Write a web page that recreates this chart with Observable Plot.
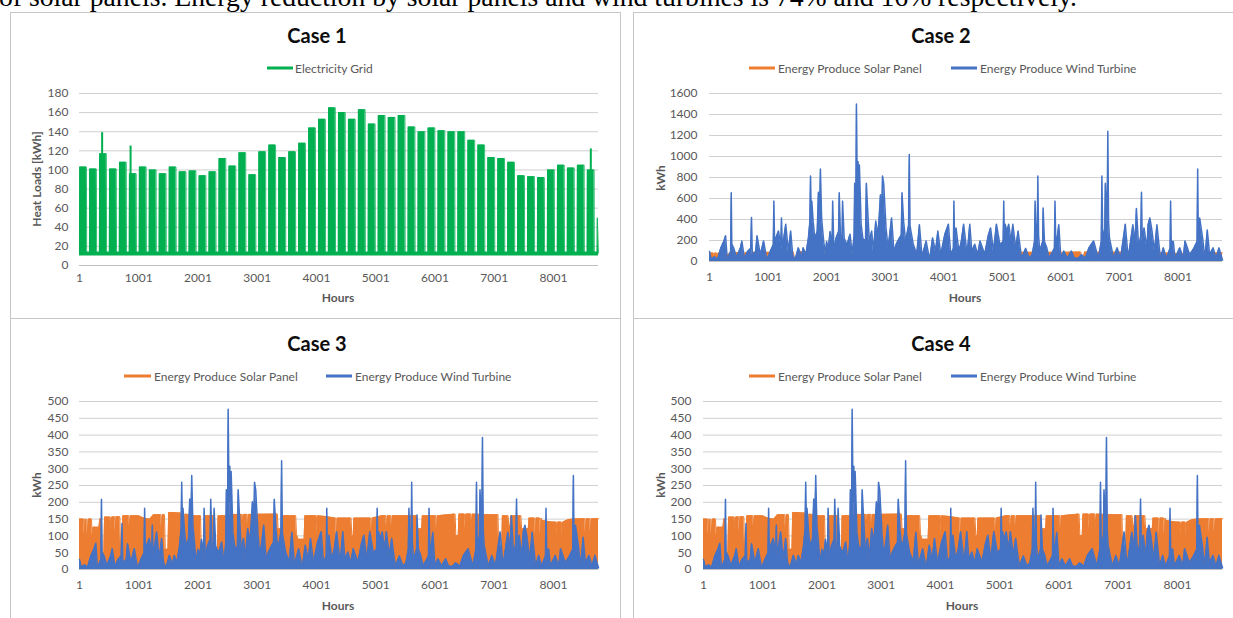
<!DOCTYPE html>
<html>
<head>
<meta charset="utf-8">
<script src="https://cdn.jsdelivr.net/npm/d3@7"></script>
<script src="https://cdn.jsdelivr.net/npm/@observablehq/plot@0.6"></script>
<style>
  html, body { margin: 0; padding: 0; background: #fff; }
  body { width: 1233px; height: 618px; overflow: hidden; position: relative; font-family: Lato, "Open Sans", sans-serif; }
  .lead { position: absolute; left: -1px; top: -17px; font: 27.7px/27.7px "Liberation Serif", "Times New Roman", serif; color: #000; white-space: nowrap; }
  .frame { position: absolute; border: 1px solid #c6c6c6; box-sizing: border-box; }
  .t { position: absolute; white-space: nowrap; line-height: 1; }
  .title { font: bold 20px Lato, sans-serif; color: #0d0d0d; transform: translate(-50%, -50%); }
  .leg { font: 12px Lato, sans-serif; color: #595959; transform: translate(0, -50%); }
  .sw { position: absolute; height: 3px; transform: translate(0, -50%); }
  .axt { font: bold 12px Lato, sans-serif; color: #595959; transform: translate(-50%, -50%); }
  .axy { font: bold 12px Lato, sans-serif; color: #595959; transform: translate(-50%, -50%) rotate(-90deg); }
</style>
</head>
<body>
<div class="lead">of solar panels. Energy reduction by solar panels and wind turbines is 74% and 16% respectively.</div>
<script>
// ---------------- data ----------------
const xTickLabels = [1, 1001, 2001, 3001, 4001, 5001, 6001, 7001, 8001];
const case1YTicks = [0, 20, 40, 60, 80, 100, 120, 140, 160, 180];
const case2YTicks = [0, 200, 400, 600, 800, 1000, 1200, 1400, 1600];
const case34YTicks = [0, 50, 100, 150, 200, 250, 300, 350, 400, 450, 500];

// Case 1: weekly peak of electricity grid load (kWh), one value per week (week starts every 168 h)
const gridWeekPeak = [
  103, 101, 117, 101, 108, 96, 103, 100, 96, 103,
  98, 99, 94, 98, 112, 104, 118, 95, 119, 126,
  113, 119, 128, 144, 153, 165, 160, 153, 163, 148,
  157, 155, 157, 145, 140, 144, 141, 140, 140, 131,
  126, 113, 112, 108, 94, 93, 92, 100, 105, 102,
  105, 100, 50
];
const gridNightBase = 13;
const gridSpikeHours = [383, 863, 8630];
const gridSpikeKwh = [139, 125, 122];

// Wind turbine output (hour, kWh) — Case 3/4 and Case 2
const windHours = [
  1, 30, 90, 135, 192, 248, 276, 305, 338, 362,
  372, 382, 417, 462, 530, 553, 600, 650, 705, 718,
  732, 790, 812, 869, 925, 981, 1038, 1090, 1100, 1112,
  1179, 1220, 1230, 1245, 1303, 1348, 1387, 1421, 1461, 1517,
  1574, 1600, 1647, 1690, 1715, 1726, 1740, 1748, 1770, 1800,
  1840, 1861, 1880, 1895, 1915, 1950, 1980, 2000, 2030, 2060,
  2095, 2104, 2125, 2160, 2205, 2216, 2240, 2265, 2273, 2300,
  2350, 2400, 2440, 2470, 2480, 2500, 2510, 2525, 2538, 2550,
  2560, 2590, 2620, 2665, 2679, 2700, 2730, 2770, 2800, 2840,
  2880, 2920, 2945, 2955, 2975, 3015, 3050, 3110, 3150, 3190,
  3240, 3275, 3288, 3315, 3350, 3400, 3412, 3425, 3440, 3480,
  3540, 3585, 3630, 3700, 3760, 3810, 3860, 3900, 3950, 4020,
  4080, 4120, 4165, 4174, 4185, 4210, 4260, 4300, 4340, 4400,
  4445, 4480, 4530, 4580, 4620, 4700, 4760, 4800, 4850, 4900,
  4960, 5015, 5025, 5035, 5050, 5080, 5110, 5150, 5180, 5230,
  5270, 5330, 5400, 5460, 5510, 5550, 5561, 5580, 5600, 5607,
  5620, 5640, 5690, 5697, 5720, 5760, 5800, 5890, 5900, 5915,
  5965, 6000, 6050, 6110, 6180, 6230, 6300, 6350, 6420, 6480,
  6560, 6640, 6690, 6701, 6715, 6750, 6760, 6790, 6802, 6815,
  6830, 6900, 6960, 7020, 7100, 7150, 7230, 7270, 7290, 7330,
  7365, 7377, 7390, 7420, 7470, 7490, 7519, 7550, 7600, 7640,
  7700, 7750, 7800, 7865, 7874, 7885, 7920, 7950, 8030, 8090,
  8120, 8200, 8270, 8326, 8336, 8348, 8370, 8420, 8460, 8500,
  8540, 8600, 8650, 8700, 8760
];
const windKwhCase34 = [
  30, 8, 14, 5, 40, 62, 78, 5, 20, 30,
  209, 52, 40, 12, 42, 62, 8, 30, 40, 137,
  20, 30, 77, 20, 62, 5, 30, 50, 182, 60,
  92, 50, 132, 40, 112, 30, 92, 20, 5, 42,
  15, 42, 20, 72, 120, 260, 120, 182, 122, 70,
  90, 210, 130, 280, 132, 62, 20, 60, 40, 90,
  50, 182, 30, 70, 90, 209, 60, 80, 182, 70,
  50, 82, 20, 80, 237, 150, 477, 200, 307, 120,
  292, 112, 70, 60, 237, 162, 60, 92, 30, 122,
  80, 202, 150, 260, 237, 102, 40, 132, 30, 52,
  70, 80, 209, 122, 60, 110, 324, 110, 92, 52,
  22, 111, 15, 62, 5, 72, 30, 92, 20, 82,
  112, 20, 40, 182, 60, 102, 30, 60, 112, 20,
  112, 30, 52, 20, 62, 22, 77, 102, 30, 112,
  50, 60, 182, 80, 112, 90, 112, 60, 112, 42,
  92, 10, 40, 10, 20, 60, 182, 60, 120, 260,
  80, 30, 60, 162, 60, 42, 10, 40, 182, 40,
  111, 10, 32, 10, 32, 10, 10, 20, 10, 42,
  62, 10, 60, 260, 60, 100, 237, 120, 393, 120,
  72, 10, 42, 10, 112, 10, 111, 60, 160, 40,
  80, 210, 60, 102, 40, 111, 132, 100, 30, 111,
  10, 42, 10, 40, 182, 60, 60, 10, 42, 10,
  62, 20, 40, 60, 280, 60, 132, 72, 10, 96,
  20, 42, 10, 42, 5
];
const windKwhCase2 = [
  95, 25, 45, 15, 125, 195, 245, 15, 65, 95,
  655, 165, 125, 40, 130, 195, 25, 95, 125, 420,
  65, 95, 245, 65, 195, 15, 95, 160, 575, 190,
  290, 160, 415, 125, 355, 95, 290, 65, 15, 130,
  45, 130, 65, 225, 380, 815, 380, 575, 385, 220,
  285, 660, 410, 880, 415, 195, 65, 190, 125, 285,
  160, 575, 95, 220, 285, 655, 190, 250, 575, 220,
  160, 260, 65, 250, 745, 470, 1500, 630, 950, 380,
  920, 355, 220, 190, 745, 510, 190, 290, 95, 385,
  250, 635, 470, 815, 745, 320, 125, 415, 95, 165,
  220, 250, 655, 385, 190, 345, 1020, 345, 290, 165,
  70, 350, 45, 195, 15, 225, 95, 290, 65, 260,
  355, 65, 125, 575, 190, 320, 95, 190, 355, 65,
  355, 95, 165, 65, 195, 70, 245, 320, 95, 355,
  160, 190, 575, 250, 355, 285, 355, 190, 355, 130,
  290, 30, 125, 30, 65, 190, 575, 190, 380, 815,
  250, 95, 190, 510, 190, 130, 30, 125, 575, 125,
  350, 30, 100, 30, 100, 30, 30, 65, 30, 130,
  195, 30, 190, 815, 190, 315, 745, 380, 1240, 380,
  225, 30, 130, 30, 355, 30, 350, 190, 505, 125,
  250, 660, 190, 320, 125, 350, 415, 315, 95, 350,
  30, 130, 30, 125, 575, 190, 190, 30, 130, 30,
  195, 65, 125, 190, 880, 190, 415, 225, 30, 300,
  65, 130, 30, 130, 15
];

// Solar panel output envelope (hour, kWh) — Case 3/4 and Case 2
const solarHours = [
  1, 70, 82, 94, 125, 137, 149, 203, 215, 227,
  330, 342, 372, 382, 412, 424, 520, 532, 544, 594,
  606, 618, 682, 692, 722, 732, 834, 846, 858, 1000,
  1100, 1190, 1250, 1374, 1386, 1398, 1436, 1448, 1494, 1506,
  1700, 1770, 1782, 1794, 1900, 2044, 2056, 2104, 2116, 2269,
  2281, 2328, 2340, 2484, 2496, 2526, 2538, 2748, 2760, 2772,
  2831, 2843, 2855, 3340, 3352, 3428, 3440, 3650, 3662, 3690,
  3792, 3804, 3998, 4010, 4022, 4140, 4325, 4337, 4349, 4584,
  4596, 4620, 4632, 4918, 4930, 4942, 5100, 5173, 5185, 5197,
  5258, 5270, 5282, 5695, 5707, 5775, 5787, 6018, 6030, 6042,
  6340, 6352, 6393, 6405, 6498, 6510, 6522, 6611, 6623, 6635,
  6850, 7064, 7076, 7126, 7138, 7234, 7246, 7268, 7280, 7450,
  7462, 7575, 7587, 7683, 7695, 7707, 7768, 7780, 7792, 7805,
  7975, 8048, 8060, 8072, 8133, 8145, 8157, 8255, 8425, 8528,
  8540, 8552, 8613, 8625, 8637, 8760
];
const solarKwhCase34 = [
  150, 150, 105, 150, 148, 95, 150, 150, 100, 126,
  126, 150, 150, 50, 50, 156, 156, 110, 156, 157,
  115, 157, 157, 81, 81, 160, 160, 125, 160, 160,
  152, 150, 163, 163, 120, 163, 163, 60, 60, 170,
  168, 165, 62, 165, 160, 160, 62, 62, 160, 160,
  52, 52, 160, 160, 40, 40, 164, 164, 100, 164,
  164, 100, 164, 165, 121, 121, 160, 160, 106, 90,
  90, 160, 160, 100, 160, 158, 153, 90, 153, 153,
  100, 100, 153, 153, 110, 153, 160, 160, 115, 160,
  160, 115, 160, 160, 121, 121, 160, 160, 100, 160,
  165, 101, 101, 165, 165, 120, 165, 165, 120, 165,
  163, 163, 60, 60, 160, 160, 130, 130, 160, 160,
  121, 121, 153, 153, 105, 153, 153, 105, 153, 146,
  141, 141, 100, 141, 141, 100, 141, 149, 151, 151,
  110, 151, 151, 110, 151, 151
];
const solarKwhCase2 = [
  80, 80, 55, 80, 80, 50, 80, 80, 55, 68,
  68, 80, 80, 28, 28, 85, 85, 60, 85, 85,
  62, 85, 85, 45, 45, 87, 87, 68, 87, 87,
  83, 82, 88, 88, 65, 88, 88, 33, 33, 92,
  91, 90, 34, 90, 87, 87, 34, 34, 87, 87,
  28, 28, 87, 87, 22, 22, 89, 89, 55, 89,
  89, 55, 89, 90, 66, 66, 87, 87, 58, 49,
  49, 87, 87, 55, 87, 86, 83, 49, 83, 83,
  55, 55, 83, 83, 60, 83, 87, 87, 62, 87,
  87, 62, 87, 87, 66, 66, 87, 87, 55, 87,
  90, 55, 55, 90, 90, 65, 90, 90, 65, 90,
  89, 89, 33, 33, 87, 87, 71, 71, 87, 87,
  66, 66, 83, 83, 57, 83, 83, 57, 83, 80,
  77, 77, 55, 77, 77, 55, 77, 81, 82, 82,
  60, 82, 82, 60, 82, 82
];

// ---------------- styles ----------------
const GREEN = "#00b050", ORANGE = "#ed7d31", BLUE = "#4472c4";
const SOLAR_NAME = "Energy Produce Solar Panel", WIND_NAME = "Energy Produce Wind Turbine";

// ---------------- tables built from the arrays ----------------
const gridPts = [];
gridWeekPeak.forEach((peak, i) => {
  const s = 1 + i * 168;
  [[s, gridNightBase], [s + 3, peak], [s + 117, peak], [s + 121, gridNightBase]].forEach(([h, v]) => {
    if (h <= 8760) gridPts.push({h, v});
  });
});
gridPts.push({h: 8760, v: gridNightBase});
const gridSpikes = gridSpikeHours.map((h, i) => ({h, v: gridSpikeKwh[i]}));
const wind34 = windHours.map((h, i) => ({h, v: windKwhCase34[i]}));
const wind2 = windHours.map((h, i) => ({h, v: windKwhCase2[i]}));
const solar34 = solarHours.map((h, i) => ({h, v: solarKwhCase34[i]}));
const solar2 = solarHours.map((h, i) => ({h, v: solarKwhCase2[i]}));

// ---------------- helpers ----------------
function addText(str, x, y, cls) {
  const d = document.createElement("div");
  d.className = "t " + cls;
  d.textContent = str;
  d.style.left = x + "px";
  d.style.top = y + "px";
  document.body.appendChild(d);
}
function addSwatch(x, y, w, color) {
  const d = document.createElement("div");
  d.className = "sw";
  d.style.left = x + "px"; d.style.top = y + "px"; d.style.width = w + "px"; d.style.background = color;
  document.body.appendChild(d);
}
function addFrame(x, y, w, h) {
  const d = document.createElement("div");
  d.className = "frame";
  d.style.left = x + "px"; d.style.top = y + "px"; d.style.width = w + "px"; d.style.height = h + "px";
  document.body.appendChild(d);
}
function drawChart(o) {
  const svg = Plot.plot({
    width: o.width, height: o.height,
    marginLeft: o.mL, marginRight: o.mR, marginTop: o.mT, marginBottom: o.mB,
    style: {fontFamily: "Lato, 'Open Sans', sans-serif", fontSize: "12px", color: "#595959", background: "transparent", overflow: "visible"},
    x: {domain: [1, 8760]},
    y: {domain: [0, o.yTicks[o.yTicks.length - 1]]},
    marks: [
      Plot.gridY(o.yTicks, {stroke: "#d0d0d0", strokeOpacity: 1, strokeWidth: 1}),
      ...o.marks,
      Plot.ruleY([0], {stroke: "#bfbfbf"}),
      Plot.axisX(xTickLabels, {tickSize: 0, tickPadding: o.xPad, tickFormat: d => String(d), label: null, fontSize: 12}),
      Plot.axisY(o.yTicks, {tickSize: 0, tickPadding: o.yPad, tickFormat: d => String(d), label: null, fontSize: 12})
    ]
  });
  svg.style.position = "absolute";
  svg.style.left = o.left + "px";
  svg.style.top = o.top + "px";
  document.body.appendChild(svg);
}
function solarWindMarks(solar, wind) {
  return [
    Plot.area(solar, {x1: "h", y1: 0, y2: "v", fill: ORANGE}),
    Plot.line(solar, {x: "h", y: "v", stroke: ORANGE, strokeWidth: 1}),
    Plot.area(wind, {x1: "h", y1: 0, y2: "v", fill: BLUE}),
    Plot.line(wind, {x: "h", y: "v", stroke: BLUE, strokeWidth: 1.5})
  ];
}

// ---------------- frames ----------------
addFrame(10, 12, 611, 307);
addFrame(633, 12, 620, 307);
addFrame(10, 318, 611, 310);
addFrame(633, 318, 620, 310);

// ---------------- Case 1 ----------------
addText("Case 1", 317, 35, "title");
addSwatch(267, 68, 26, GREEN);
addText("Electricity Grid", 295, 68, "leg");
drawChart({
  left: 10, top: 80, width: 610, height: 230, mL: 69, mR: 22, mT: 13, mB: 45,
  yTicks: case1YTicks, xPad: 8, yPad: 11,
  marks: [
    Plot.area(gridPts, {x1: "h", y1: 10, y2: "v", fill: GREEN}),
    Plot.line(gridPts, {x: "h", y: "v", stroke: GREEN, strokeWidth: 0.8}),
    Plot.ruleY([gridNightBase], {stroke: GREEN, strokeWidth: 3}),
    Plot.ruleX(gridSpikes, {x: "h", y1: gridNightBase, y2: "v", stroke: GREEN, strokeWidth: 2})
  ]
});
addText("Heat Loads [kWh]", 36, 179, "axy");
addText("Hours", 338, 297, "axt");

// ---------------- Case 2 ----------------
addText("Case 2", 941, 35, "title");
addSwatch(749, 68, 26, ORANGE);
addText(SOLAR_NAME, 778, 68, "leg");
addSwatch(951, 68, 26, BLUE);
addText(WIND_NAME, 980, 68, "leg");
drawChart({
  left: 634, top: 80, width: 599, height: 230, mL: 75, mR: 11, mT: 13, mB: 49,
  yTicks: case2YTicks, xPad: 11, yPad: 12,
  marks: solarWindMarks(solar2, wind2)
});
addText("kWh", 660, 178, "axy");
addText("Hours", 965, 297, "axt");

// ---------------- Case 3 ----------------
addText("Case 3", 317, 343, "title");
addSwatch(124, 376, 27, ORANGE);
addText(SOLAR_NAME, 154, 376, "leg");
addSwatch(326, 376, 26, BLUE);
addText(WIND_NAME, 355, 376, "leg");
drawChart({
  left: 10, top: 390, width: 610, height: 228, mL: 69, mR: 22, mT: 11, mB: 49,
  yTicks: case34YTicks, xPad: 11, yPad: 11,
  marks: solarWindMarks(solar34, wind34)
});
addText("kWh", 36, 485, "axy");
addText("Hours", 338, 605, "axt");

// ---------------- Case 4 ----------------
addText("Case 4", 941, 343, "title");
addSwatch(749, 376, 26, ORANGE);
addText(SOLAR_NAME, 778, 376, "leg");
addSwatch(951, 376, 26, BLUE);
addText(WIND_NAME, 980, 376, "leg");
drawChart({
  left: 634, top: 390, width: 599, height: 228, mL: 69, mR: 11, mT: 11, mB: 49,
  yTicks: case34YTicks, xPad: 11, yPad: 12,
  marks: solarWindMarks(solar34, wind34)
});
addText("kWh", 660, 485, "axy");
addText("Hours", 962, 605, "axt");
</script>
</body>
</html>
